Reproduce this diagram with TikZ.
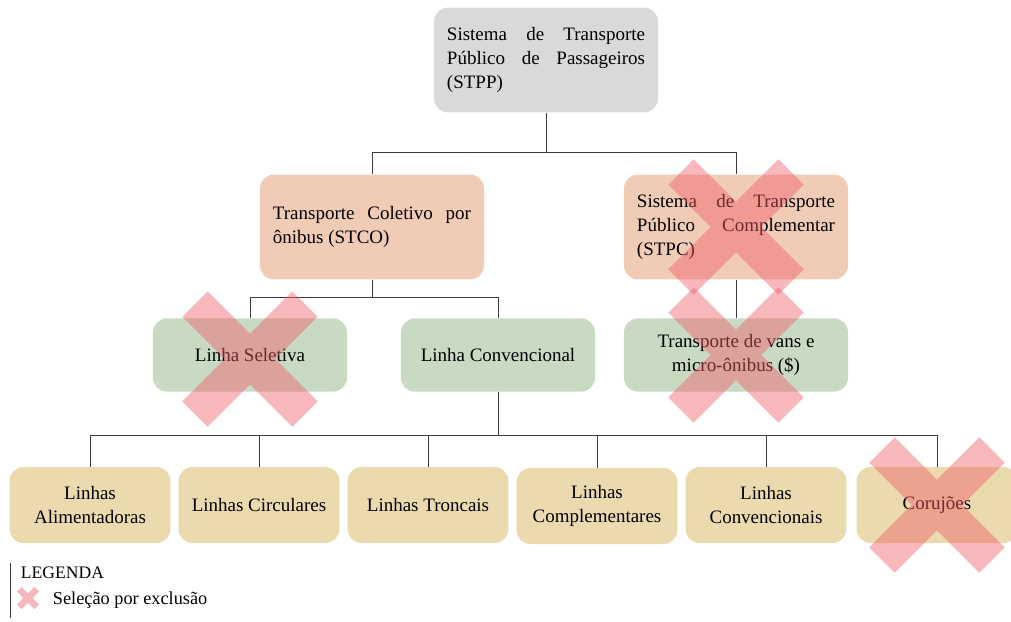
\documentclass[tikz,border=0pt]{standalone}
\usepackage{fontspec}
\setmainfont{Liberation Serif}
\usepackage{xcolor}
\usetikzlibrary{calc}

\definecolor{boxgray}{RGB}{217,217,217}
\definecolor{boxsalmon}{RGB}{240,203,182}
\definecolor{boxgreen}{RGB}{201,218,195}
\definecolor{boxtan}{RGB}{234,218,174}
\definecolor{crossred}{RGB}{240,95,105}
\definecolor{linegray}{RGB}{60,60,60}

\tikzset{
  excl/.pic={\draw[crossred,opacity=0.45] (-55,-55) -- (55,55) (55,-55) -- (-55,55);}
}

\begin{document}
\begin{tikzpicture}[x=0.025cm,y=-0.025cm,
  box/.style={rounded corners=0.35cm,inner sep=0pt,font=\fontsize{13.5}{17}\selectfont},
  wide/.style={box,minimum width=5.6cm,minimum height=2.62cm,text width=4.95cm,align=justify},
  mid/.style={box,fill=boxgreen,minimum width=4.85cm,minimum height=1.83cm,align=center},
  leaf/.style={box,fill=boxtan,minimum width=4.02cm,minimum height=1.9cm,align=center},
  conn/.style={draw=linegray,line width=0.6pt},
  bigx/.style={line width=0.9cm}]
\useasboundingbox (0,0) rectangle (1011,621);

% levels 1 and 2
\node[wide,fill=boxgray] (stpp) at (546,60) {Sistema de Transporte\linebreak Público de Passageiros\linebreak (STPP)};
\node[wide,fill=boxsalmon] (stco) at (372,227) {Transporte Coletivo por\linebreak ônibus (STCO)};
\node[wide,fill=boxsalmon] (stpc) at (736,227) {Sistema de Transporte\linebreak Público Complementar\linebreak (STPC)};

% level 3
\node[mid] (seletiva) at (250,355) {Linha Seletiva};
\node[mid] (convencional) at (498,355) {Linha Convencional};
\node[mid,minimum width=5.6cm] (vans) at (736,355) {Transporte de vans e\\micro-ônibus (\$)};

% level 4
\node[leaf] (alim) at (90,505) {Linhas\\Alimentadoras};
\node[leaf] (circ) at (259,505) {Linhas Circulares};
\node[leaf] (tronc) at (428,505) {Linhas Troncais};
\node[leaf] (compl) at (597,506) {Linhas\\Complementares};
\node[leaf] (conv) at (766,505) {Linhas\\Convencionais};
\node[leaf] (coruj) at (937,505) {Corujões};

\draw[conn] (stpp.south) -- ++(0,40) -| (stco.north);
\draw[conn] (stpp.south) -- ++(0,40) -| (stpc.north);
\draw[conn] (stco.south) -- ++(0,18) -| (seletiva.north);
\draw[conn] (stco.south) -- ++(0,18) -| (convencional.north);
\draw[conn] (stpc) -- (vans);
\foreach \lf in {alim,circ,tronc,compl,conv,coruj}
  \draw[conn] (convencional.south) -- ++(0,44) -| (\lf.north);

% excluded
\pic[bigx] at (stpc) {excl};
\pic[bigx] at ($(seletiva)+(0,4)$) {excl};
\pic[bigx] at (vans) {excl};
\pic[bigx] at (coruj) {excl};

% legend
\draw[conn] (10,563) -- (10,618);
\node[anchor=west,font=\fontsize{12.5}{15}\selectfont] (legenda) at (16,573) {LEGENDA};
\pic[scale=0.16,line width=0.16cm] at (28,598) {excl};
\node[anchor=west,font=\fontsize{13}{15}\selectfont] (legexcl) at (48,600) {Seleção por exclusão};
\end{tikzpicture}
\end{document}
